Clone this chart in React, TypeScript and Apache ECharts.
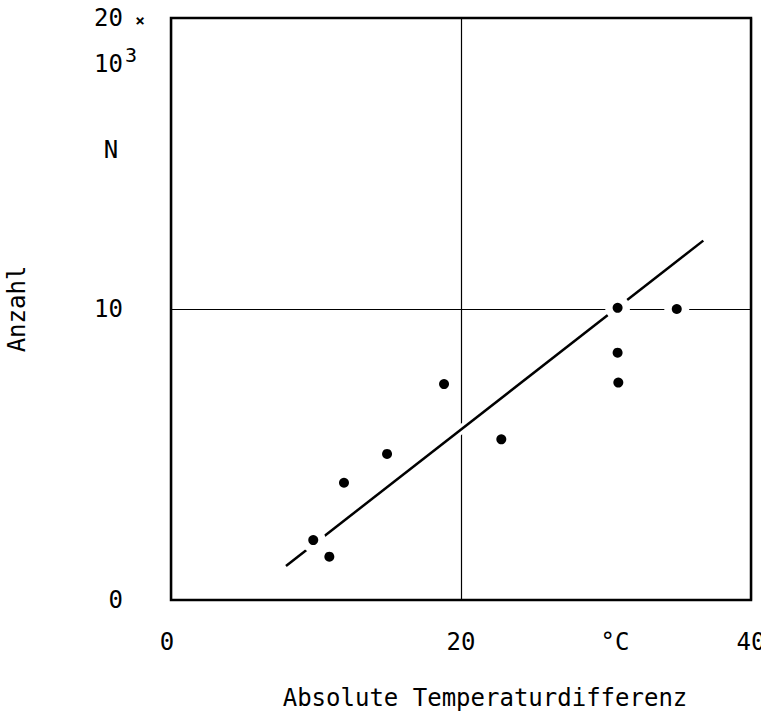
import React, { useEffect, useRef } from "react";
import * as echarts from "echarts";

const pointsX = [9.81, 10.92, 11.93, 14.9, 18.83, 22.78, 30.8, 30.8, 30.85, 34.88];
const pointsY = [2.06, 1.49, 4.03, 5.02, 7.42, 5.52, 10.04, 8.5, 7.47, 10.0];
const fitX = [7.93, 36.71];
const fitY = [1.17, 12.35];
const xLabelValues = [0, 20, 30, 40];
const yTicks = [0, 10, 20];

const FONT = "DejaVu Sans Mono";

export default function App() {
  const ref = useRef<HTMLDivElement>(null);
  useEffect(() => {
    if (!ref.current) return;
    const chart = echarts.init(ref.current, undefined, { renderer: "svg" });
    const pts = pointsX.map((x, i) => [x, pointsY[i]]);
    const fit = fitX.map((x, i) => [x, fitY[i]]);
    chart.setOption({
      animation: false,
      backgroundColor: "#ffffff",
      grid: {
        left: 171,
        top: 18,
        right: 10,
        bottom: 118,
        show: true,
        borderColor: "#000",
        borderWidth: 2.5,
        containLabel: false,
        outerBoundsMode: "none",
      },
      xAxis: {
        type: "value",
        min: 0,
        max: 40,
        interval: 20,
        name: "Absolute Temperaturdifferenz",
        nameLocation: "middle",
        nameGap: 86,
        nameTextStyle: { fontFamily: FONT, fontSize: 24, color: "#000", padding: [0, 0, 0, 48] },
        axisLine: { show: false },
        axisTick: { show: false },
        axisLabel: {
          customValues: xLabelValues,
          formatter: (v: number) => (v === 30 ? "{c|°C}" : v === 0 ? "{z|0}" : String(v)),
          rich: {
            c: { fontFamily: FONT, fontSize: 24, color: "#000", padding: [0, 0, 0, 18] },
            z: { fontFamily: FONT, fontSize: 24, color: "#000", padding: [0, 8, 0, 0] },
          },
          fontFamily: FONT,
          fontSize: 24,
          color: "#000",
          margin: 30,
        },
        splitLine: { show: true, lineStyle: { color: "#000", width: 1.2 } },
      },
      yAxis: {
        type: "value",
        min: 0,
        max: 20,
        interval: 10,
        name: "Anzahl",
        nameLocation: "middle",
        nameRotate: 90,
        nameGap: 142,
        nameTextStyle: { fontFamily: FONT, fontSize: 24, color: "#000" },
        axisLine: { show: false },
        axisTick: { show: false },
        axisLabel: {
          customValues: yTicks,
          fontFamily: FONT,
          fontSize: 24,
          color: "#000",
          margin: 48,
        },
        splitLine: { show: true, lineStyle: { color: "#000", width: 1.2 } },
      },
      graphic: [
        { type: "text", x: 140, y: 20, style: { text: "×", fontFamily: FONT, fontSize: 16, fontWeight: "bold", fill: "#000", align: "center", verticalAlign: "middle" } },
        { type: "text", x: 123, y: 64, style: { text: "10", fontFamily: FONT, fontSize: 24, fill: "#000", align: "right", verticalAlign: "middle" } },
        { type: "text", x: 125, y: 55, style: { text: "3", fontFamily: FONT, fontSize: 20, fill: "#000", align: "left", verticalAlign: "middle" } },
        { type: "text", x: 111, y: 150, style: { text: "N", fontFamily: FONT, fontSize: 24, fill: "#000", align: "center", verticalAlign: "middle" } },
      ],
      series: [
        {
          type: "line",
          data: fit,
          symbol: "none",
          lineStyle: { color: "#fff", width: 9, opacity: 1 },
          z: 1,
          silent: true,
        },
        {
          type: "line",
          data: fit,
          symbol: "none",
          lineStyle: { color: "#000", width: 2.5, opacity: 1 },
          z: 2,
        },
        {
          type: "scatter",
          data: pts,
          symbol: "circle",
          symbolSize: 25,
          itemStyle: { color: "#fff", opacity: 1 },
          z: 3,
          silent: true,
        },
        {
          type: "scatter",
          data: pts,
          symbol: "circle",
          symbolSize: 10,
          itemStyle: { color: "#000", opacity: 1 },
          z: 4,
        },
      ],
    });
    return () => chart.dispose();
  }, []);
  return (
    <div
      ref={ref}
      style={{ position: "fixed", left: 0, top: 0, width: 761, height: 718 }}
    />
  );
}
